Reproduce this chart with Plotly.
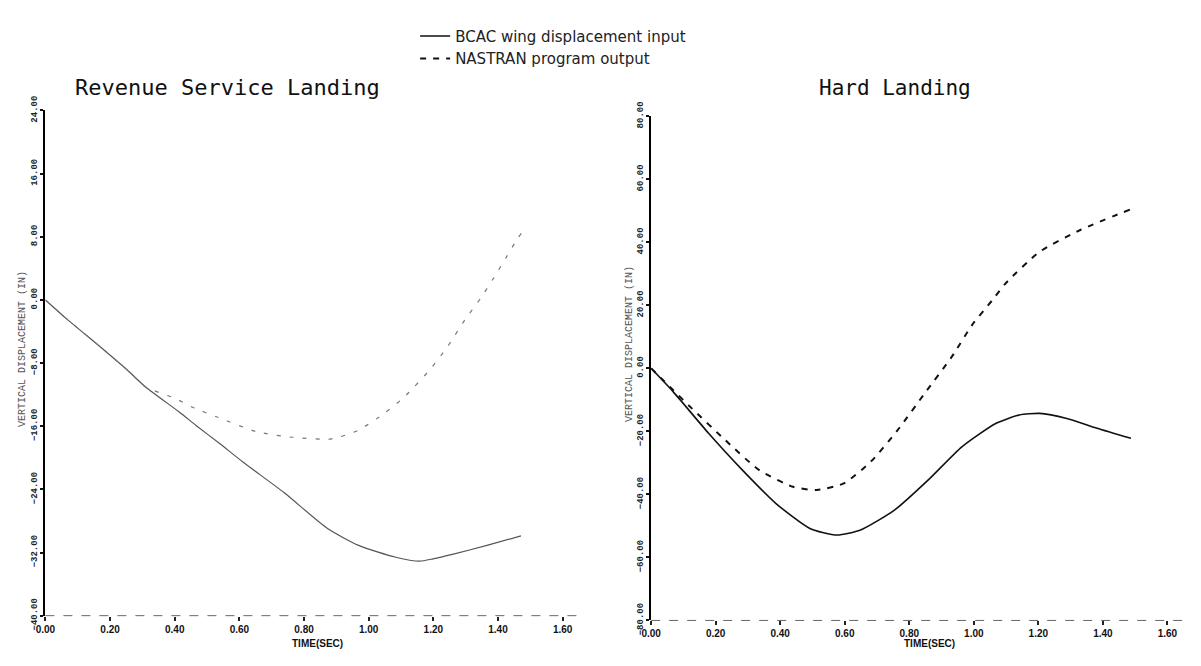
import plotly.graph_objects as go

W, H = 1201, 666

# ---- data ----
x_ticks = [0.0, 0.2, 0.4, 0.6, 0.8, 1.0, 1.2, 1.4, 1.6]
y_ticks_rev = [-40, -32, -24, -16, -8, 0, 8, 16, 24]
y_ticks_hard = [-80, -60, -40, -20, 0, 20, 40, 60, 80]

time_rev_nastran = [0, 0.063, 0.183, 0.254, 0.309, 0.403, 0.455, 0.529, 0.654, 0.764, 0.885,
                    0.969, 1.047, 1.105, 1.141, 1.188, 1.241, 1.298, 1.346, 1.387, 1.424, 1.461, 1.487]
disp_rev_nastran = [0, -2.3, -6.4, -8.9, -11.0, -12.5, -13.6, -14.8, -16.7, -17.4, -17.6,
                    -16.5, -14.4, -12.5, -11.0, -8.9, -6.1, -2.5, 0.2, 2.8, 5.3, 7.8, 9.3]

time_rev_bcac = [0, 0.063, 0.183, 0.254, 0.309, 0.414, 0.466, 0.539, 0.613, 0.738, 0.874,
                 0.969, 1.084, 1.157, 1.199, 1.262, 1.366, 1.471]
disp_rev_bcac = [0, -2.3, -6.4, -8.9, -11.0, -14.2, -15.9, -18.2, -20.6, -24.4, -29.0,
                 -31.1, -32.6, -33.1, -32.8, -32.2, -31.1, -29.9]

time_hard_nastran = [0, 0.068, 0.126, 0.230, 0.335, 0.440, 0.513, 0.597, 0.681, 0.764, 0.848,
                     0.932, 0.995, 1.058, 1.099, 1.204, 1.330, 1.487]
disp_hard_nastran = [0, -6.9, -12.7, -22.8, -32.3, -37.6, -38.6, -36.5, -29.6, -19.6, -7.9,
                     3.7, 13.8, 21.7, 27.0, 37.0, 43.9, 50.5]

time_hard_bcac = [0, 0.068, 0.178, 0.283, 0.387, 0.492, 0.576, 0.649, 0.754, 0.859, 0.963,
                  1.068, 1.141, 1.204, 1.288, 1.382, 1.487]
disp_hard_bcac = [0, -7.4, -20.6, -32.3, -42.9, -50.8, -52.9, -51.3, -45.0, -35.4, -24.9,
                  -17.5, -14.8, -14.3, -15.9, -19.0, -22.2]

name_bcac = "BCAC wing displacement input"
name_nastran = "NASTRAN program output"
title_rev = "Revenue Service Landing"
title_hard = "Hard Landing"
x_title = "TIME(SEC)"
y_title = "VERTICAL DISPLACEMENT (IN)"

fig = go.Figure()

# left panel
fig.add_trace(go.Scatter(x=time_rev_bcac, y=disp_rev_bcac, mode="lines", name=name_bcac,
                         line=dict(color="#555555", width=1.2, shape="spline", smoothing=0.6),
                         xaxis="x", yaxis="y", showlegend=False))
fig.add_trace(go.Scatter(x=time_rev_nastran, y=disp_rev_nastran, mode="lines", name=name_nastran,
                         line=dict(color="#777777", width=1.2, dash="4px,9px", shape="spline", smoothing=0.6),
                         xaxis="x", yaxis="y", showlegend=False))
# right panel
fig.add_trace(go.Scatter(x=time_hard_bcac, y=disp_hard_bcac, mode="lines", name=name_bcac,
                         line=dict(color="#111111", width=1.6, shape="spline", smoothing=0.6),
                         xaxis="x2", yaxis="y2", showlegend=True))
fig.add_trace(go.Scatter(x=time_hard_nastran, y=disp_hard_nastran, mode="lines", name=name_nastran,
                         line=dict(color="#111111", width=2, dash="6px,7px", shape="spline", smoothing=0.6),
                         xaxis="x2", yaxis="y2", showlegend=True))

tickfont_x = dict(family="Liberation Sans", size=10, color="#111111", weight="bold")
tickfont_y = dict(family="Liberation Mono", size=9, color="#222222", weight="bold")

def xax(dom, anchor):
    return dict(domain=dom, anchor=anchor, range=[0, 1.6], tickmode="array", tickvals=x_ticks,
                tickformat=".2f", showgrid=False, zeroline=False, showline=False,
                ticks="outside", ticklen=4, tickwidth=1.5, tickcolor="#222222",
                tickfont=tickfont_x)

def yax(dom, anchor, rng, vals):
    return dict(domain=dom, anchor=anchor, range=rng, tickmode="array", tickvals=vals,
                tickformat=".2f", tickangle=-90, showgrid=False, zeroline=False,
                showline=True, linecolor="#000000", linewidth=2,
                ticks="outside", ticklen=3, tickwidth=1.5, tickcolor="#111111",
                tickfont=tickfont_y)

fig.update_layout(
    width=W, height=H,
    margin=dict(l=0, r=0, t=0, b=0),
    paper_bgcolor="white", plot_bgcolor="white",
    xaxis=xax([36 / W, 562 / W], "y"),
    yaxis=yax([1 - 629 / H, 1 - 100 / H], "x", [-40, 24], y_ticks_rev),
    xaxis2=xax([652 / W, 1177 / W], "y2"),
    yaxis2=yax([1 - 634 / H, 1 - 106 / H], "x2", [-80, 80], y_ticks_hard),
    showlegend=True,
    legend=dict(x=412 / W, y=1 - 5 / H, xanchor="left", yanchor="top",
                bgcolor="rgba(0,0,0,0)", font=dict(family="DejaVu Sans", size=15, color="#222222"),
                tracegroupgap=0, itemwidth=30),
    shapes=[
        dict(type="line", xref="x domain", yref="y domain", x0=0, x1=1.03, y0=0, y1=0,
             line=dict(color="#666666", width=1, dash="dash")),
        dict(type="line", xref="x2 domain", yref="y2 domain", x0=0, x1=1.03, y0=0, y1=0,
             line=dict(color="#666666", width=1, dash="dash")),
    ],
    annotations=[
        dict(text=title_rev, xref="paper", yref="paper", x=64 / W, y=1 - 76 / H,
             xanchor="left", yanchor="middle", showarrow=False,
             font=dict(family="DejaVu Sans Mono", size=22, color="#111111")),
        dict(text=title_hard, xref="paper", yref="paper", x=821 / W, y=1 - 76 / H,
             xanchor="left", yanchor="middle", showarrow=False,
             font=dict(family="DejaVu Sans Mono", size=21, color="#111111")),
        dict(text=x_title, xref="paper", yref="paper", x=313 / W, y=1 - 658 / H,
             xanchor="center", yanchor="middle", showarrow=False,
             font=dict(family="Liberation Sans", size=10, color="#111111", weight="bold")),
        dict(text=x_title, xref="paper", yref="paper", x=935 / W, y=1 - 658 / H,
             xanchor="center", yanchor="middle", showarrow=False,
             font=dict(family="Liberation Sans", size=10, color="#111111", weight="bold")),
        dict(text=y_title, xref="paper", yref="paper", x=12 / W, y=1 - 350 / H,
             xanchor="center", yanchor="middle", showarrow=False, textangle=-90,
             font=dict(family="Liberation Mono", size=10, color="#555555")),
        dict(text=y_title, xref="paper", yref="paper", x=630 / W, y=1 - 345 / H,
             xanchor="center", yanchor="middle", showarrow=False, textangle=-90,
             font=dict(family="Liberation Mono", size=10, color="#555555")),
    ],
)

fig.write_html("out.html", config={"displayModeBar": False},
               post_script="document.body.style.margin='0';document.body.style.overflow='hidden';")
